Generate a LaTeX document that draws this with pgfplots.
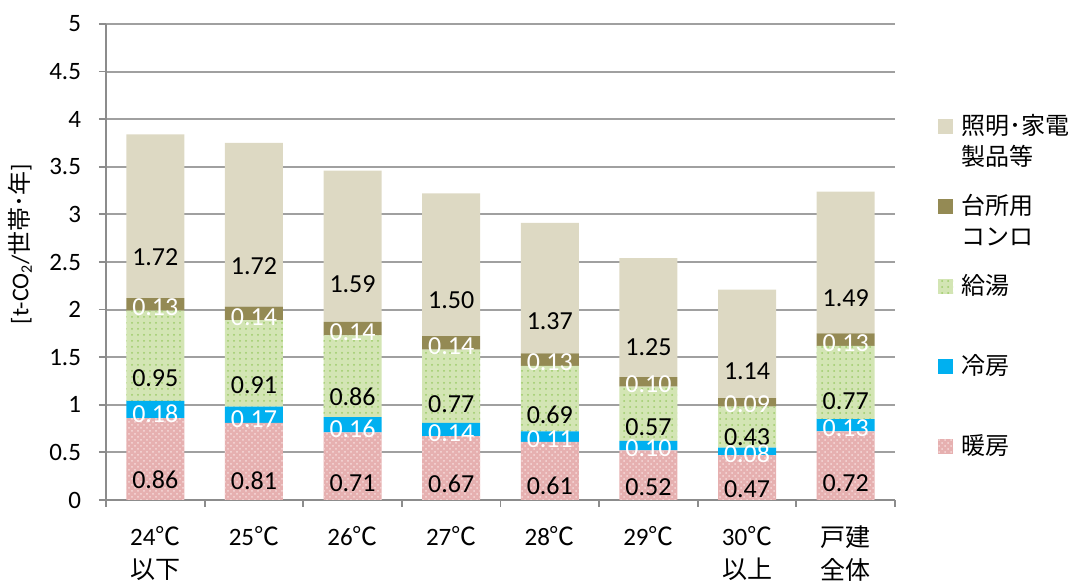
\documentclass[border=0pt]{standalone}
\usepackage{fontspec}
\setmainfont{Carlito}
\newfontfamily\jp{Noto Sans CJK JP}
\usepackage{pgfplots}
\pgfplotsset{compat=1.18}
\usepackage{pgfplotstable}
\usetikzlibrary{patterns}

\definecolor{cLight}{HTML}{DDD9C3}
\definecolor{cKitchen}{HTML}{948A54}
\definecolor{cWater}{HTML}{D3E5B4}
\definecolor{cWaterDot}{HTML}{9DCC6A}
\definecolor{cCool}{HTML}{00B0F0}
\definecolor{cHeat}{HTML}{E6B0B0}
\definecolor{cHeatDot}{HTML}{F6DADA}
\definecolor{cGrid}{HTML}{A0A0A0}
\definecolor{cAxis}{HTML}{8C8C8C}

\pgfplotstableread{
x heat cool water kitchen light
0 0.86 0.18 0.95 0.13 1.72
1 0.81 0.17 0.91 0.14 1.72
2 0.71 0.16 0.86 0.14 1.59
3 0.67 0.14 0.77 0.14 1.50
4 0.61 0.11 0.69 0.13 1.37
5 0.52 0.10 0.57 0.10 1.25
6 0.47 0.08 0.43 0.09 1.14
7 0.72 0.13 0.77 0.13 1.49
}\datatable

\pgfplotsset{
  seglabel/.style={
    nodes near coords={\pgfmathprintnumber[fixed,fixed zerofill,precision=2]{\pgfplotspointmeta}},
    point meta=explicit,
    every node near coord/.append style={anchor=center, inner sep=0pt, text=#1,
      font=\fontsize{13}{15}\selectfont,
      /utils/exec={\pgfkeys{/pgf/fpu=true,/pgf/fpu/output format=fixed}%
        \pgfmathsetmacro\myshift{-11.9*\pgfplotspointmeta}\pgfkeys{/pgf/fpu=false}},
      yshift=\myshift pt},
  },
}
\newcommand{\legtext}[1]{\hspace*{4pt}\parbox[t]{75pt}{\jp\fontsize{12}{15.5}\selectfont #1}}

\begin{document}
\begin{tikzpicture}
\path[use as bounding box] (-53pt,-40.5pt) rectangle (487pt,250pt);
\begin{axis}[
  at={(0,0)}, anchor=south west,
  scale only axis, width=394.5pt, height=238pt,
  ybar stacked, bar width=29pt,
  xmin=-0.5, xmax=7.5, ymin=0, ymax=5,
  xtick={-0.5,0.5,...,7.5},
  x tick label as interval,
  xticklabels={{24{\jp ℃}\\{\jp 以下}},{25{\jp ℃}},{26{\jp ℃}},{27{\jp ℃}},{28{\jp ℃}},{29{\jp ℃}},{30{\jp ℃}\\{\jp 以上}},{{\jp 戸建}\\{\jp 全体}}},
  x tick label style={align=center, font=\fontsize{12.5}{16.5}\selectfont, anchor=north, yshift=-6pt},
  ytick={0,0.5,...,5},
  yticklabel style={font=\fontsize{12.5}{14}\selectfont, xshift=-5.5pt},
  /pgf/number format/assume math mode=true,
  axis x line*=bottom, axis y line*=left,
  axis line style={cAxis, line width=0.9pt},
  tick align=outside, major tick length=3.5pt,
  tick style={cAxis, line width=0.9pt},
  ymajorgrids, grid style={cGrid, line width=1pt},
  ylabel={[t-CO\textsubscript{2}/{\jp 世帯･年}]},
  every axis y label/.style={at={(axis description cs:-0.109,0.538)}, rotate=90, anchor=center, font=\fontsize{12}{14}\selectfont},
  reverse legend,
  legend image code/.code={\path[#1, draw=none] (0pt,0.3pt) rectangle (7.5pt,7.8pt);},
  legend style={at={(axis description cs:1.0545,0.811)}, anchor=north west, draw=none, fill=none,
    inner sep=0pt, row sep=0pt, cells={anchor=base west}, nodes={inner sep=0pt, text height=10pt, text depth=30pt}},
]
\addplot[fill=cHeat, draw=none, postaction={pattern=crosshatch dots, pattern color=cHeatDot}, seglabel=black]
  table[x=x, y=heat, meta=heat]{\datatable};
\addlegendentry{\legtext{暖房}}
\addplot[fill=cCool, draw=none, seglabel=white]
  table[x=x, y=cool, meta=cool]{\datatable};
\addlegendentry{\legtext{冷房}}
\addplot[fill=cWater, draw=none, postaction={pattern=dots, pattern color=cWaterDot}, seglabel=black]
  table[x=x, y=water, meta=water]{\datatable};
\addlegendentry{\legtext{給湯}}
\addplot[fill=cKitchen, draw=none, seglabel=white]
  table[x=x, y=kitchen, meta=kitchen]{\datatable};
\addlegendentry{\legtext{台所用\\コンロ}}
\addplot[fill=cLight, draw=none, seglabel=black]
  table[x=x, y=light, meta=light]{\datatable};
\addlegendentry{\legtext{照明･家電\\製品等}}
\end{axis}
\end{tikzpicture}
\end{document}
